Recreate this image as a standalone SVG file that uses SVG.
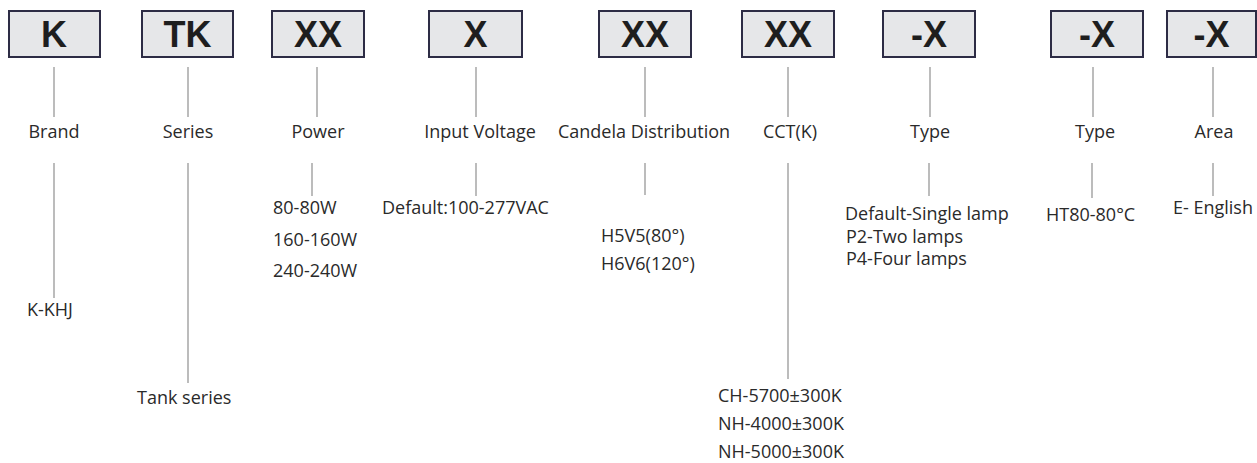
<svg xmlns="http://www.w3.org/2000/svg" width="1257" height="463" viewBox="0 0 1257 463">
<style>
.box rect{fill:#e6e7e9;stroke:#2d2c45;stroke-width:2}
.box text{font-family:"Liberation Sans",Arial,sans-serif;font-weight:bold;font-size:36px;fill:#1e1e1e;text-anchor:middle}
.lbl{font-family:"Open Sans","Noto Sans",sans-serif;font-size:18px;fill:#2a2a2a}
.c{text-anchor:middle}
#connectors line{stroke:#a0a0a0;stroke-width:1.4}
</style>
<rect width="1257" height="463" fill="#ffffff"/>
<g id="node-brand" class="box"><rect x="9" y="11" width="91" height="46"/><text x="54" y="47">K</text></g>
<g id="node-series" class="box"><rect x="142" y="11" width="91" height="46"/><text x="187.5" y="47">TK</text></g>
<g id="node-power" class="box"><rect x="272" y="11" width="92" height="46"/><text x="318" y="47">XX</text></g>
<g id="node-voltage" class="box"><rect x="429" y="11" width="93" height="46"/><text x="475.5" y="47">X</text></g>
<g id="node-candela" class="box"><rect x="599" y="11" width="92" height="46"/><text x="645" y="47">XX</text></g>
<g id="node-cct" class="box"><rect x="742" y="11" width="92" height="46"/><text x="788" y="47">XX</text></g>
<g id="node-type1" class="box"><rect x="883" y="11" width="92" height="46"/><text x="929" y="47">-X</text></g>
<g id="node-type2" class="box"><rect x="1051" y="11" width="92" height="46"/><text x="1097" y="47">-X</text></g>
<g id="node-area" class="box"><rect x="1167" y="11" width="89" height="46"/><text x="1211.5" y="47">-X</text></g>

<g id="connectors">
<line x1="54" y1="67" x2="54" y2="117"/>
<line x1="188" y1="67" x2="188" y2="117"/>
<line x1="317" y1="67" x2="317" y2="117"/>
<line x1="476" y1="67" x2="476" y2="117"/>
<line x1="645" y1="67" x2="645" y2="117"/>
<line x1="788" y1="67" x2="788" y2="117"/>
<line x1="930" y1="67" x2="930" y2="117"/>
<line x1="1093" y1="67" x2="1093" y2="117"/>
<line x1="1213" y1="67" x2="1213" y2="117"/>
<line x1="54" y1="163" x2="54" y2="298"/>
<line x1="188" y1="163" x2="188" y2="383"/>
<line x1="312" y1="163" x2="312" y2="196"/>
<line x1="476" y1="163" x2="476" y2="196"/>
<line x1="645" y1="163" x2="645" y2="195"/>
<line x1="788" y1="163" x2="788" y2="379"/>
<line x1="929" y1="163" x2="929" y2="196"/>
<line x1="1092" y1="163" x2="1092" y2="198"/>
<line x1="1213" y1="163" x2="1213" y2="196"/>
</g>

<g id="labels">
<text class="lbl c" x="54" y="138">Brand</text>
<text class="lbl c" x="188" y="138">Series</text>
<text class="lbl c" x="318" y="138">Power</text>
<text class="lbl c" x="480" y="138">Input Voltage</text>
<text class="lbl c" x="644" y="138">Candela Distribution</text>
<text class="lbl c" x="790" y="138">CCT(K)</text>
<text class="lbl c" x="930" y="138">Type</text>
<text class="lbl c" x="1095" y="138">Type</text>
<text class="lbl c" x="1214" y="138">Area</text>
</g>

<g id="values">
<text class="lbl" x="27" y="316">K-KHJ</text>
<text class="lbl" x="137" y="404">Tank series</text>
<text class="lbl" x="273" y="214">80-80W</text>
<text class="lbl" x="273" y="246">160-160W</text>
<text class="lbl" x="273" y="277">240-240W</text>
<text class="lbl" x="382" y="214">Default:100-277VAC</text>
<text class="lbl" x="601" y="242">H5V5(80°)</text>
<text class="lbl" x="601" y="270">H6V6(120°)</text>
<text class="lbl" x="718" y="402">CH-5700±300K</text>
<text class="lbl" x="718" y="430">NH-4000±300K</text>
<text class="lbl" x="718" y="458">NH-5000±300K</text>
<text class="lbl" x="845" y="220">Default-Single lamp</text>
<text class="lbl" x="846" y="243">P2-Two lamps</text>
<text class="lbl" x="846" y="265">P4-Four lamps</text>
<text class="lbl" x="1046" y="221">HT80-80°C</text>
<text class="lbl" x="1173" y="214">E- English</text>
</g>
</svg>
